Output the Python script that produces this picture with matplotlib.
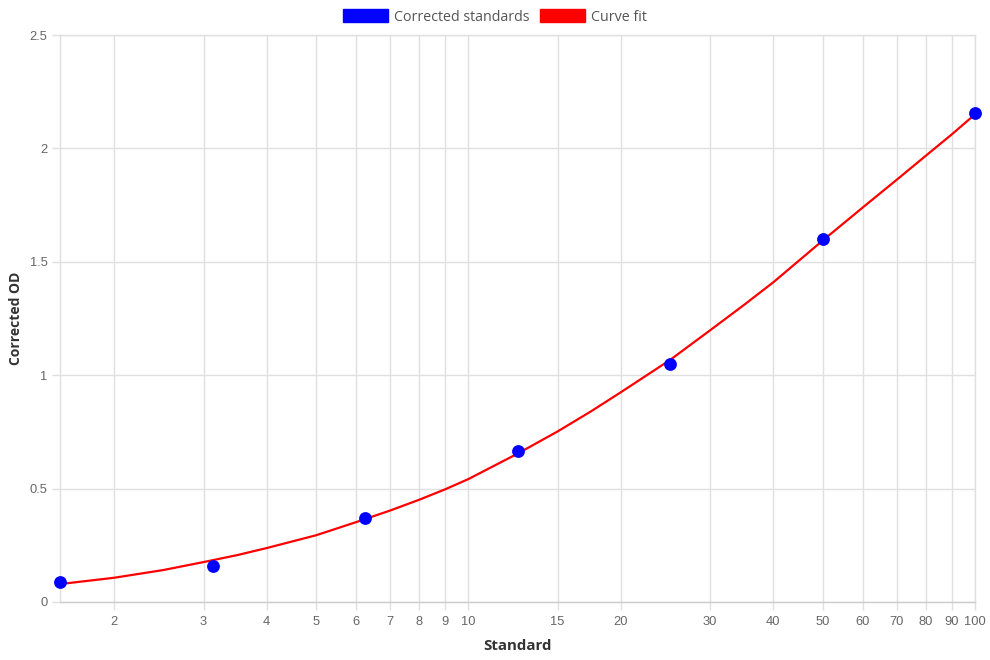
import numpy as np
import matplotlib
matplotlib.use('Agg')
import matplotlib.pyplot as plt
from matplotlib.patches import Patch
from matplotlib.ticker import FixedLocator, NullLocator

# corrected standards (points)
std_x = [1.5625, 3.125, 6.25, 12.5, 25, 50, 100]
std_od = [0.087, 0.160, 0.372, 0.667, 1.051, 1.599, 2.157]

# curve fit
fit_x = [1.5625, 2, 2.5, 3, 3.5, 4, 5, 6, 7, 8, 9, 10, 12.5, 15, 17.5, 20, 25, 30, 35, 40, 50, 60, 70, 80, 90, 100]
fit_od = [0.079, 0.107, 0.141, 0.176, 0.207, 0.238, 0.294, 0.352, 0.403, 0.451, 0.497, 0.542, 0.654, 0.752,
          0.842, 0.925, 1.067, 1.198, 1.310, 1.410, 1.593, 1.739, 1.861, 1.968, 2.062, 2.150]

x_ticks = [2, 3, 4, 5, 6, 7, 8, 9, 10, 15, 20, 30, 40, 50, 60, 70, 80, 90, 100]
y_ticks = [0, 0.5, 1, 1.5, 2, 2.5]

grid_c = '#e0e0e0'
tick_c = '#666666'
title_font = ['Open Sans', 'DejaVu Sans']
tick_font = ['Liberation Sans', 'DejaVu Sans']

fig = plt.figure(figsize=(9.9, 6.6), dpi=100)
ax = fig.add_axes([60 / 990, 1 - 602 / 660, 915 / 990, 567 / 660])

ax.plot(fit_x, fit_od, color='red', lw=1.6, zorder=3, clip_on=False, solid_joinstyle='round')
ax.scatter(std_x, std_od, s=85, color='blue', zorder=4, clip_on=False, linewidths=0)

ax.set_xscale('log')
ax.set_xlim(1.5625, 100)
ax.set_ylim(0, 2.5)
ax.xaxis.set_major_locator(FixedLocator(x_ticks))
ax.xaxis.set_minor_locator(NullLocator())
ax.set_xticklabels([str(t) for t in x_ticks])
ax.yaxis.set_major_locator(FixedLocator(y_ticks))
ax.set_yticklabels(['0', '0.5', '1', '1.5', '2', '2.5'])

ax.grid(True, color=grid_c, lw=1)
ax.set_axisbelow(True)
for s in ax.spines.values():
    s.set_color(grid_c)
    s.set_linewidth(1)
ax.spines['bottom'].set_color('#cccccc')
ax.tick_params(axis='both', colors=grid_c, labelcolor=tick_c, length=6, width=1, labelsize=9.3)
ax.tick_params(axis='x', pad=4)
ax.tick_params(axis='y', pad=3)
for lab in ax.get_xticklabels() + ax.get_yticklabels():
    lab.set_fontfamily(tick_font)

ax.set_xlabel('Standard', fontsize=10.8, fontweight='bold', color='#333333',
              family=title_font, labelpad=8)
ax.set_ylabel('Corrected OD', fontsize=10, fontweight='bold', color='#333333',
              family=title_font, labelpad=5)

handles = [Patch(facecolor='blue', edgecolor='blue'), Patch(facecolor='red', edgecolor='red')]
fig.legend(handles, ['Corrected standards', 'Curve fit'], loc='center',
           bbox_to_anchor=(0.5, 1 - 17 / 660), ncol=2, frameon=False,
           handlelength=3.1, handleheight=1.0, handletextpad=0.45, columnspacing=0.75,
           prop={'family': title_font, 'size': 10.3}, labelcolor='#555555')

fig.savefig('out.png', dpi=100)
